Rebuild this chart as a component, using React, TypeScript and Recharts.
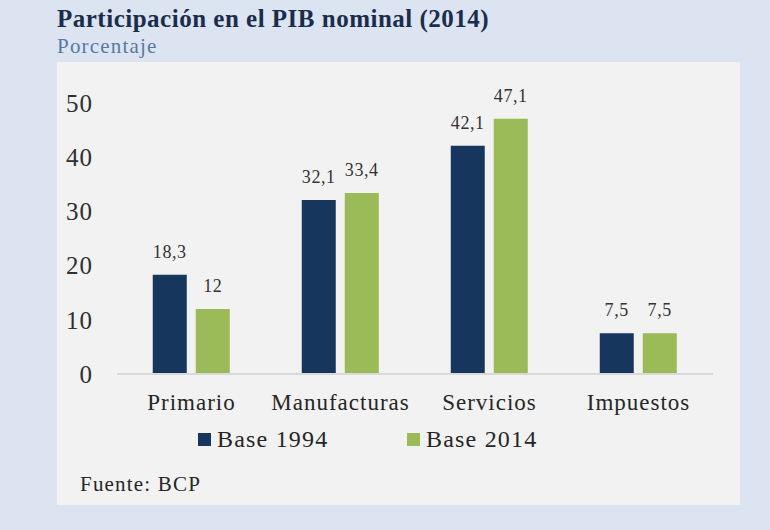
import React from "react";
import { BarChart, Bar, XAxis, YAxis, LabelList } from "recharts";

// Sector shares of nominal GDP under each base year
const sectors = ["Primario", "Manufacturas", "Servicios", "Impuestos"];
const base1994 = [18.3, 32.1, 42.1, 7.5];
const base2014 = [12, 33.4, 47.1, 7.5];
const yTicks = [0, 10, 20, 30, 40, 50];
const seriesNames = ["Base 1994", "Base 2014"];

const NAVY = "#17365d";
const GREEN = "#9bbb59";
const SERIF = "'Liberation Serif', 'Times New Roman', serif";

const data = sectors.map((s, i) => ({ sector: s, b1994: base1994[i], b2014: base2014[i] }));

const fmt = (v: number) => String(v).replace(".", ",");

export default function App() {
  return (
    <div
      style={{
        position: "absolute",
        left: 0,
        top: 0,
        width: 770,
        height: 530,
        background: "#dbe4f0",
        fontFamily: SERIF,
        overflow: "hidden",
      }}
    >
      <div
        style={{
          position: "absolute",
          left: 57,
          top: 5,
          fontSize: 25,
          fontWeight: 700,
          letterSpacing: 0.5,
          color: "#1b2d4d",
          whiteSpace: "nowrap",
        }}
      >
        Participación en el PIB nominal (2014)
      </div>
      <div
        style={{
          position: "absolute",
          left: 57,
          top: 34,
          fontSize: 21,
          letterSpacing: 1.2,
          color: "#5a79a3",
          whiteSpace: "nowrap",
        }}
      >
        Porcentaje
      </div>
      <div
        style={{
          position: "absolute",
          left: 57,
          top: 62,
          width: 683,
          height: 443,
          background: "#f2f2f2",
        }}
      />
      <div style={{ position: "absolute", left: 0, top: 0 }}>
        <BarChart
          width={770}
          height={530}
          data={data}
          margin={{ top: 103, right: 57, bottom: 116, left: 57 }}
          barCategoryGap="24%"
          barGap={9}
        >
          <XAxis
            dataKey="sector"
            height={40}
            tickLine={false}
            tickSize={0}
            tickMargin={20}
            axisLine={{ stroke: "#d9d9d9", strokeWidth: 2 }}
            tick={{ fill: "#262626", fontSize: 23, fontFamily: SERIF, letterSpacing: 1 }}
          />
          <YAxis
            width={60}
            domain={[0, 50]}
            ticks={yTicks}
            axisLine={false}
            tickLine={false}
            tickSize={0}
            tickMargin={24}
            tick={{ fill: "#2f2f2f", fontSize: 25, fontFamily: SERIF, letterSpacing: 1 }}
          />
          <Bar dataKey="b1994" name={seriesNames[0]} fill={NAVY} isAnimationActive={false}>
            <LabelList
              dataKey="b1994"
              position="top"
              offset={17}
              formatter={(v: any) => fmt(v)}
              style={{ fill: "#333", fontSize: 18, fontFamily: SERIF, letterSpacing: 0.6 }}
            />
          </Bar>
          <Bar dataKey="b2014" name={seriesNames[1]} fill={GREEN} isAnimationActive={false}>
            <LabelList
              dataKey="b2014"
              position="top"
              offset={17}
              formatter={(v: any) => fmt(v)}
              style={{ fill: "#333", fontSize: 18, fontFamily: SERIF, letterSpacing: 0.6 }}
            />
          </Bar>
        </BarChart>
      </div>
      {[NAVY, GREEN].map((c, i) => (
        <div
          key={i}
          style={{
            position: "absolute",
            left: i === 0 ? 198 : 407,
            top: 426,
            display: "flex",
            alignItems: "center",
            whiteSpace: "nowrap",
          }}
        >
          <span style={{ display: "inline-block", width: 13, height: 13, background: c, marginRight: 6 }} />
          <span style={{ fontSize: 24, letterSpacing: 1.2, color: "#262626" }}>{seriesNames[i]}</span>
        </div>
      ))}
      <div
        style={{
          position: "absolute",
          left: 80,
          top: 472,
          fontSize: 21,
          letterSpacing: 1.2,
          color: "#262626",
          whiteSpace: "nowrap",
        }}
      >
        Fuente: BCP
      </div>
    </div>
  );
}
